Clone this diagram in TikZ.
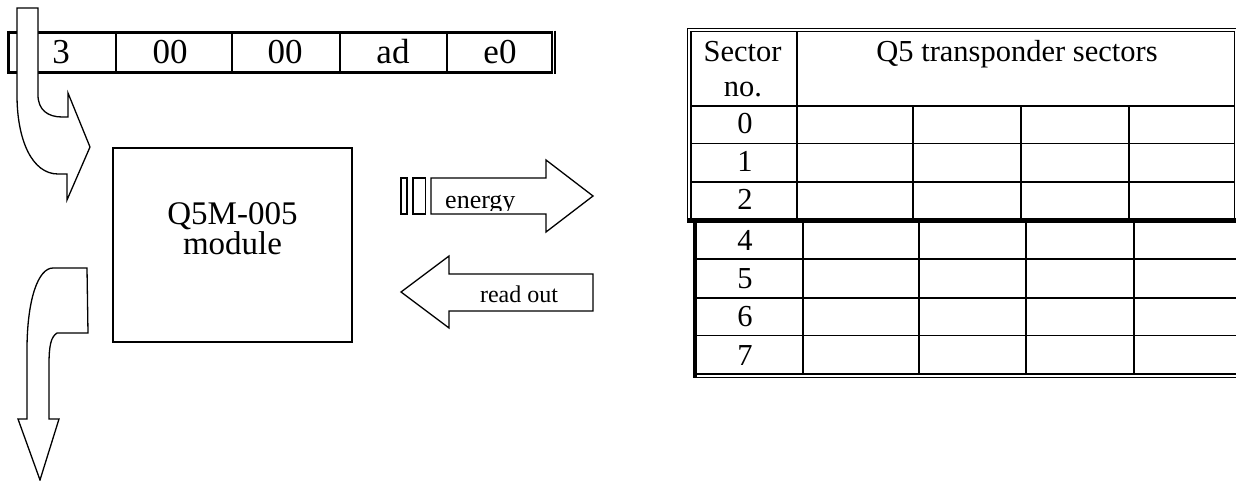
\documentclass[tikz,border=0pt]{standalone}
\usepackage{fontspec}
\setmainfont{Liberation Serif}
\begin{document}
\begin{tikzpicture}[x=1pt,y=-1pt,
  outline/.style={draw=black,line width=1.3pt,fill=white,line join=miter},
  regborder/.style={line width=3.3pt},
  cellrule/.style={line width=1.7pt},
  dblrule/.style={line width=1.1pt},
  regtext/.style={font=\fontsize{35}{35}\selectfont,inner sep=0pt,anchor=base},
  modtext/.style={font=\fontsize{33}{33}\selectfont,inner sep=0pt,anchor=base},
  tabtext/.style={font=\fontsize{30.5}{30.5}\selectfont,inner sep=0pt,anchor=base},
  arrowtext/.style={font=\fontsize{24}{24}\selectfont,inner sep=0pt,anchor=base}]
\useasboundingbox (0,0) rectangle (1236,481);

% register with five bytes
\draw[regborder] (8.5,32.3) -- (552.7,32.3);
\draw[regborder] (8.5,72.5) -- (552.7,72.5);
\draw[regborder] (8.5,30.7) -- (8.5,74.1);
\draw[line width=2pt] (551.7,30.7) -- (551.7,74.1);
\draw[line width=1.2pt] (555,30.7) -- (555,74.1);
\foreach \xx in {116,232,340,447} \draw[cellrule] (\xx,32.3) -- (\xx,72.5);
\node[regtext] (rA) at (61,63.3) {3};
\node[regtext] (rB) at (170,63.3) {00};
\node[regtext] (rC) at (285,63.3) {00};
\node[regtext] (rD) at (393,63.3) {ad};
\node[regtext] (rE) at (500,63.3) {e0};

% curved arrow from the register into the module
\draw[outline] (17,8) -- (38,8) -- (38,95)
  .. controls (38,110) and (48,117) .. (62,117) -- (68,117) -- (68,93)
  -- (90,147) -- (67,200) -- (67,174) -- (58,174)
  .. controls (32,174) and (17,140) .. (17,95) -- cycle;

% module
\draw[line width=1.3pt] (113,148) rectangle (352,342);
\node[modtext] (modA) at (232.5,224) {Q5M-005};
\node[modtext] (modB) at (232.5,254) {module};

% curved arrow leaving the module
\draw[outline] (53,268) -- (87,268) -- (88,333) -- (57,333)
  .. controls (51,337) and (49,345) .. (49,365) -- (49,419) -- (59,419)
  -- (40,480) -- (18,419) -- (27,419) -- (27,350)
  .. controls (27,300) and (38,268) .. (53,268) -- cycle;

% energy arrow
\draw[outline] (401,178) rectangle (407,214);
\draw[outline] (413,178) rectangle (425.5,214);
\draw[outline] (431,178) -- (546,178) -- (546,160) -- (593,196)
  -- (546,232) -- (546,214) -- (431,214) -- cycle;
\begin{scope}
  \clip (432,179) rectangle (545,210);
  \node[arrowtext,anchor=base west,font=\fontsize{26}{26}\selectfont] (energy) at (445,208) {energy};
\end{scope}

% read out arrow
\draw[outline] (593,274) -- (449,274) -- (449,256) -- (401,292)
  -- (449,328) -- (449,311) -- (593,311) -- cycle;
\node[arrowtext] (readout) at (519,302) {read out};

% upper table: sectors 0 to 2
\draw[dblrule] (687.5,222) -- (687.5,28.3) -- (1240,28.3);
\draw[dblrule] (691,218.3) -- (691,31.7) -- (1234.3,31.7) -- (1234.3,218.3);
\draw[cellrule] (797.3,31.7) -- (797.3,218.3);
\foreach \yy in {106,143.5,182} \draw[cellrule] (691,\yy) -- (1234.3,\yy);
\foreach \xx in {913,1021,1129} \draw[cellrule] (\xx,106) -- (\xx,218.3);
\draw[line width=4.4pt] (687,220.5) -- (1240,220.5);

% lower table: sectors 4 to 7
\draw[line width=3.4pt] (695,220) -- (695,378.3);
\draw[cellrule] (802.7,222) -- (802.7,374);
\foreach \yy in {259.3,297.7,335.5} \draw[cellrule] (695,\yy) -- (1240,\yy);
\foreach \xx in {919,1025.7,1134} \draw[cellrule] (\xx,222) -- (\xx,374);
\draw[line width=1.6pt] (693.3,374.2) -- (1240,374.2);
\draw[line width=1.6pt] (693.3,377.5) -- (1240,377.5);

% table texts
\node[tabtext] (hsec) at (742.5,61.7) {Sector};
\node[tabtext] (hno) at (743,96.7) {no.};
\node[tabtext] (hq) at (1017,61.7) {Q5 transponder sectors};
\node[tabtext] (s0) at (745,134) {0};
\node[tabtext] (s1) at (745,171.7) {1};
\node[tabtext] (s2) at (745,210) {2};
\node[tabtext] (s4) at (745,250) {4};
\node[tabtext] (s5) at (745,288.3) {5};
\node[tabtext] (s6) at (745,326.7) {6};
\node[tabtext] (s7) at (745,365) {7};
\end{tikzpicture}
\end{document}
